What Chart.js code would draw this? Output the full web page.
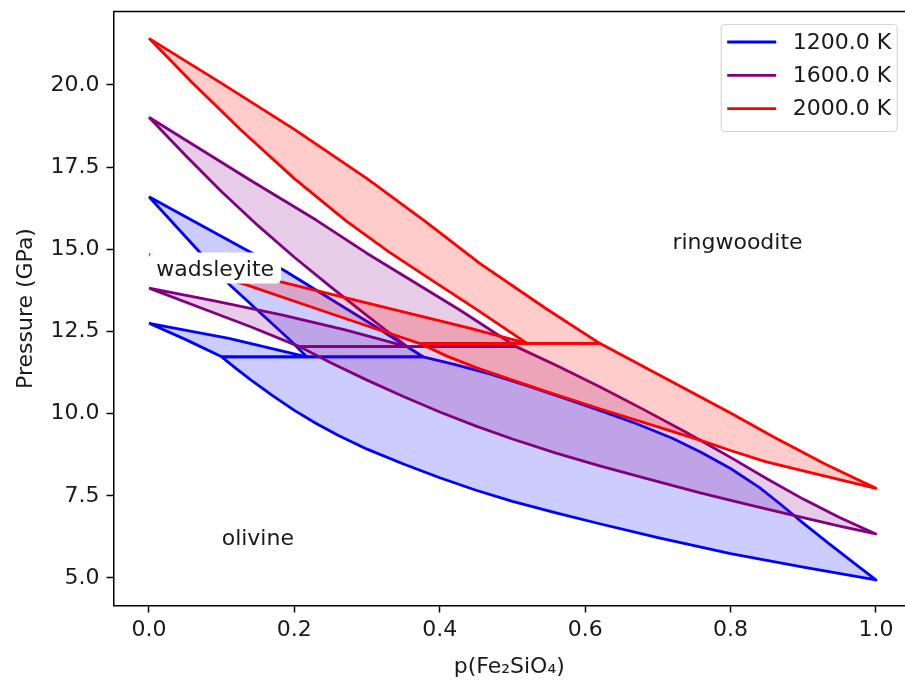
<!DOCTYPE html>
<html>
<head>
<meta charset="utf-8">
<script src="https://cdn.jsdelivr.net/npm/chart.js@4.4.1/dist/chart.umd.min.js"></script>
<style>
  html, body { margin: 0; padding: 0; background: #fff; }
</style>
</head>
<body>
<canvas id="myChart" width="905" height="680"></canvas>
<script>
// temperatures shown in the legend
var temps = ['1200.0 K', '1600.0 K', '2000.0 K'];
// pressure of the ol + wad + rw triple point at each temperature (GPa)
var tripleP = [11.73, 12.04, 12.14];

// ---- 1200 K ----
var ol_x_1200    = [0, 0.05, 0.10, 0.12, 0.14, 0.17, 0.20, 0.23, 0.26, 0.30, 0.35, 0.40, 0.45, 0.50, 0.56, 0.62, 0.70, 0.80, 0.90, 1.00];
var ol_p_1200    = [12.75, 12.26, 11.73, 11.37, 11.03, 10.55, 10.10, 9.70, 9.34, 8.92, 8.47, 8.05, 7.67, 7.33, 6.98, 6.65, 6.23, 5.74, 5.33, 4.94];
var rw_x_1200    = [0, 0.134, 0.185, 0.304, 0.377, 0.42, 0.47, 0.52, 0.57, 0.62, 0.67, 0.72, 0.76, 0.80, 0.84, 0.87, 0.90, 0.935, 0.97, 1.00];
var rw_p_1200    = [16.60, 14.98, 14.37, 12.75, 11.73, 11.50, 11.20, 10.85, 10.48, 10.10, 9.70, 9.25, 8.82, 8.33, 7.75, 7.22, 6.67, 6.05, 5.45, 4.94];
var wadLo_x_1200 = [0, 0.11, 0.217];
var wadLo_p_1200 = [12.75, 12.29, 11.73];
var wadHi_x_1200 = [0, 0.067, 0.111, 0.194, 0.217];
var wadHi_p_1200 = [16.60, 14.98, 13.92, 12.24, 11.73];

// ---- 1600 K ----
var ol_x_1600    = [0, 0.07, 0.139, 0.207, 0.25, 0.30, 0.35, 0.40, 0.45, 0.50, 0.56, 0.62, 0.69, 0.757, 0.83, 0.894, 0.95, 1.00];
var ol_p_1600    = [13.82, 13.23, 12.65, 12.04, 11.55, 11.02, 10.52, 10.05, 9.62, 9.23, 8.80, 8.41, 7.99, 7.60, 7.20, 6.87, 6.58, 6.34];
var rw_x_1600    = [0, 0.139, 0.23, 0.299, 0.427, 0.505, 0.56, 0.62, 0.68, 0.74, 0.80, 0.85, 0.90, 0.95, 1.00];
var rw_p_1600    = [19.02, 17.11, 15.89, 14.89, 13.16, 12.04, 11.47, 10.82, 10.13, 9.42, 8.67, 8.02, 7.40, 6.84, 6.34];
var wadLo_x_1600 = [0, 0.09, 0.184, 0.27, 0.355];
var wadLo_p_1600 = [13.82, 13.43, 13.00, 12.55, 12.04];
var wadHi_x_1600 = [0, 0.05, 0.10, 0.15, 0.20, 0.25, 0.30, 0.355];
var wadHi_p_1600 = [19.02, 17.86, 16.75, 15.72, 14.76, 13.86, 12.98, 12.04];

// ---- 2000 K ----
var ol_x_2000    = [0, 0.134, 0.276, 0.372, 0.41, 0.45, 0.50, 0.546, 0.62, 0.70, 0.757, 0.80, 0.848, 0.92, 1.00];
var ol_p_2000    = [14.83, 13.92, 12.85, 12.14, 11.75, 11.40, 11.02, 10.68, 10.15, 9.60, 9.20, 8.88, 8.54, 8.15, 7.73];
var rw_x_2000    = [0, 0.10, 0.20, 0.30, 0.38, 0.455, 0.546, 0.62, 0.70, 0.80, 0.86, 0.93, 1.00];
var rw_p_2000    = [21.42, 20.05, 18.65, 17.15, 15.85, 14.57, 13.20, 12.14, 11.20, 10.02, 9.28, 8.47, 7.73];
var wadLo_x_2000 = [0, 0.18, 0.441, 0.52];
var wadLo_p_2000 = [14.83, 14.02, 12.60, 12.14];
var wadHi_x_2000 = [0, 0.06, 0.125, 0.20, 0.272, 0.33, 0.39, 0.45, 0.52];
var wadHi_p_2000 = [21.42, 20.06, 18.66, 17.15, 15.85, 14.92, 14.05, 13.18, 12.14];

// axis ticks
var xTicks = [0, 0.2, 0.4, 0.6, 0.8, 1.0];
var yTicks = [5, 7.5, 10, 12.5, 15, 17.5, 20];

// phase names written on the plot
var regionNames = ['olivine', 'wadsleyite', 'ringwoodite'];
var regionX     = [0.10, 0.01, 0.72];
var regionP     = [6.0, 14.2, 15.0];
var regionBoxed = [false, true, false];

var lineColors = ['#0000ff', '#800080', '#ff0000'];
var fillColors = ['rgba(0, 0, 255, 0.2)', 'rgba(128, 0, 128, 0.2)', 'rgba(255, 0, 0, 0.2)'];
var fontFamily = "'DejaVu Sans', sans-serif";
var fontSize = 22;

function toPoints(xs, ps) {
    var out = [];
    for (var i = 0; i < xs.length; i++) out.push({x: xs[i], y: ps[i]});
    return out;
}

// closed outlines of the three two-phase loops
function loops(ol, rw, wadLo, wadHi, tp) {
    var olUp = ol.filter(function(p){ return p.y >= tp; });
    var olDn = ol.filter(function(p){ return p.y <= tp; });
    var rwUp = rw.filter(function(p){ return p.y >= tp; });
    var rwDn = rw.filter(function(p){ return p.y <= tp; });
    var olWad = olUp.concat(wadLo.slice().reverse());
    var wadRw = wadHi.concat(rwUp.slice().reverse());
    var olRw  = olDn.concat(rwDn.slice().reverse(), [olDn[0]]);
    return [olWad, wadRw, olRw];
}

var allLoops = [
    loops(toPoints(ol_x_1200, ol_p_1200), toPoints(rw_x_1200, rw_p_1200),
          toPoints(wadLo_x_1200, wadLo_p_1200), toPoints(wadHi_x_1200, wadHi_p_1200), tripleP[0]),
    loops(toPoints(ol_x_1600, ol_p_1600), toPoints(rw_x_1600, rw_p_1600),
          toPoints(wadLo_x_1600, wadLo_p_1600), toPoints(wadHi_x_1600, wadHi_p_1600), tripleP[1]),
    loops(toPoints(ol_x_2000, ol_p_2000), toPoints(rw_x_2000, rw_p_2000),
          toPoints(wadLo_x_2000, wadLo_p_2000), toPoints(wadHi_x_2000, wadHi_p_2000), tripleP[2])
];

var datasets = [];
var n = 0;
allLoops.forEach(function(group, t){
    group.forEach(function(pts){
        datasets.push({
            label: temps[t],
            data: pts,
            showLine: true,
            fill: 'shape',
            borderColor: lineColors[t],
            backgroundColor: fillColors[t],
            borderWidth: 2.8,
            borderJoinStyle: 'round',
            pointRadius: 0,
            tension: 0,
            order: 20 - n
        });
        n++;
    });
});

var tickFont = {family: fontFamily, size: fontSize};

// matplotlib style legend box in the upper right corner
var legendBox = {
    id: 'legendBox',
    afterDraw: function(chart){
        var ctx = chart.ctx;
        var a = chart.chartArea;
        var w = 176, h = 107;
        var x0 = a.right - 8.3 - w, y0 = a.top + 12.5;
        ctx.save();
        ctx.beginPath();
        ctx.roundRect(x0 + 0.5, y0 + 0.5, w, h, 4);
        ctx.fillStyle = 'rgba(255,255,255,0.8)';
        ctx.fill();
        ctx.strokeStyle = '#d6d6d6';
        ctx.lineWidth = 1.2;
        ctx.stroke();
        ctx.font = fontSize + 'px ' + fontFamily;
        ctx.textBaseline = 'middle';
        ctx.fillStyle = '#1a1a1a';
        temps.forEach(function(label, i){
            var yy = y0 + 18 + i * 33.3;
            ctx.beginPath();
            ctx.moveTo(x0 + 6.5, yy);
            ctx.lineTo(x0 + 55.5, yy);
            ctx.strokeStyle = lineColors[i];
            ctx.lineWidth = 2.8;
            ctx.stroke();
            ctx.fillText(label, x0 + 72, yy + 1);
        });
        ctx.restore();
    }
};

// phase names, placed with the data scales
var regionLabels = {
    id: 'regionLabels',
    afterDatasetsDraw: function(chart){
        var ctx = chart.ctx;
        var xs = chart.scales.x, ys = chart.scales.y;
        ctx.save();
        ctx.font = fontSize + 'px ' + fontFamily;
        ctx.textBaseline = 'alphabetic';
        ctx.textAlign = 'left';
        regionNames.forEach(function(name, i){
            var px = xs.getPixelForValue(regionX[i]);
            var py = ys.getPixelForValue(regionP[i]);
            if (regionBoxed[i]) {
                var w = ctx.measureText(name).width;
                ctx.beginPath();
                ctx.roundRect(px - 7, py - 23, w + 14, 31, 5);
                ctx.fillStyle = '#ffffff';
                ctx.fill();
            }
            ctx.fillStyle = '#1a1a1a';
            ctx.fillText(name, px, py);
        });
        ctx.restore();
    }
};

// top spine (the right one falls just outside the picture)
var frame = {
    id: 'frame',
    afterDraw: function(chart){
        var ctx = chart.ctx, a = chart.chartArea;
        ctx.save();
        ctx.strokeStyle = '#000';
        ctx.lineWidth = 1.5;
        ctx.beginPath();
        ctx.moveTo(a.left, a.top);
        ctx.lineTo(a.right, a.top);
        ctx.stroke();
        ctx.restore();
    }
};

var config = {
    type: 'scatter',
    data: {datasets: datasets},
    options: {
        responsive: false,
        animation: false,
        layout: {padding: {left: 0, top: 11.5, right: 0, bottom: 0}},
        plugins: {
            legend: {display: false},
            tooltip: {enabled: false}
        },
        scales: {
            x: {
                type: 'linear',
                min: -0.0488,
                max: 1.04,
                afterBuildTicks: function(s){ s.ticks = xTicks.map(function(v){ return {value: v}; }); },
                afterFit: function(s){ s.height = 74.5; s.paddingLeft = 0; s.paddingRight = 0; },
                ticks: {
                    font: tickFont, color: '#1a1a1a', padding: 5, maxRotation: 0, autoSkip: false,
                    callback: function(v){ return v.toFixed(1); }
                },
                grid: {drawOnChartArea: false, drawTicks: true, tickLength: 7, tickWidth: 1.5, tickColor: '#000'},
                border: {display: true, color: '#000', width: 1.5},
                title: {display: true, text: 'p(Fe\u2082SiO\u2084)', font: tickFont, color: '#1a1a1a',
                        padding: {top: 0, bottom: 0}}
            },
            y: {
                type: 'linear',
                min: 4.163,
                max: 22.236,
                afterBuildTicks: function(s){ s.ticks = yTicks.map(function(v){ return {value: v}; }); },
                afterFit: function(s){ s.width = 113.5; s.paddingTop = 0; s.paddingBottom = 0; },
                ticks: {
                    font: tickFont, color: '#1a1a1a', padding: 7,
                    callback: function(v){ return v.toFixed(1); }
                },
                grid: {drawOnChartArea: false, drawTicks: true, tickLength: 7, tickWidth: 1.5, tickColor: '#000'},
                border: {display: true, color: '#000', width: 1.5},
                title: {display: true, text: 'Pressure (GPa)', font: tickFont, color: '#1a1a1a',
                        padding: {top: 13, bottom: 0}}
            }
        }
    },
    plugins: [regionLabels, legendBox, frame]
};

var myChart = new Chart(document.getElementById('myChart'), config);
</script>
</body>
</html>
